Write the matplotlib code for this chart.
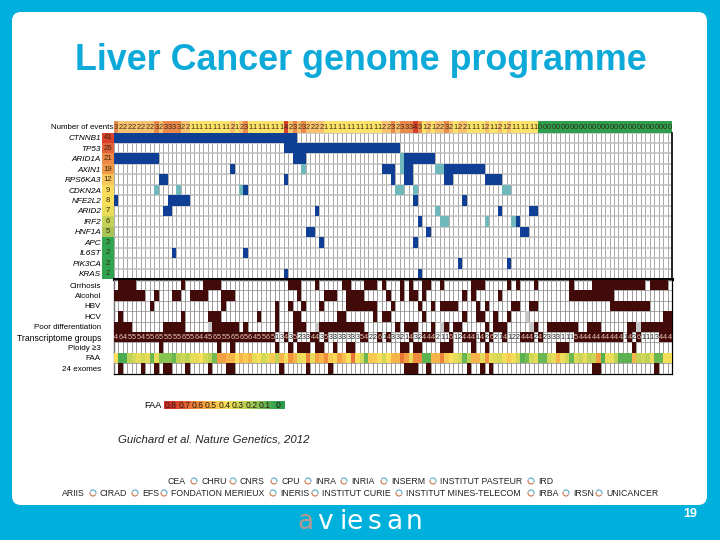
import numpy as np
import matplotlib
matplotlib.use('Agg')
import matplotlib.pyplot as plt
from matplotlib.colors import LinearSegmentedColormap, ListedColormap
from matplotlib.patches import Arc, FancyBboxPatch

plt.rcParams['font.family'] = ['Liberation Sans', 'DejaVu Sans']

title = 'Liver Cancer genome programme'
citation = 'Guichard et al. Nature Genetics, 2012'

### Mutation panel, runs of columns per gene (first, last)
genes = ['CTNNB1', 'TP53', 'ARID1A', 'AXIN1', 'RPS6KA3', 'CDKN2A', 'NFE2L2', 'ARID2',
         'IRF2', 'HNF1A', 'APC', 'IL6ST', 'PIK3CA', 'KRAS']
gene_counts = [41, 26, 21, 19, 12, 9, 8, 7, 6, 5, 2, 2, 2, 2]
count_colors = ['#D8402C', '#E2603A', '#EE8A45', '#F09A4A', '#F8C75C', '#FBDD5E', '#FBE05E', '#E8DC58',
                '#C4D257', '#A8C455', '#2FA550', '#2FA550', '#2FA550', '#2FA550']
blue_runs = [
    [(0, 40)],
    [(38, 63)],
    [(0, 9), (40, 42), (65, 71)],
    [(26, 26), (60, 62), (65, 66), (74, 82)],
    [(10, 11), (38, 38), (62, 62), (65, 66), (74, 75), (83, 86)],
    [(29, 29)],
    [(0, 0), (12, 16), (67, 67), (78, 78)],
    [(11, 12), (45, 45), (86, 86), (93, 94)],
    [(68, 68), (90, 90)],
    [(43, 44), (70, 70), (91, 92)],
    [(46, 46), (67, 67)],
    [(13, 13), (29, 29)],
    [(77, 77), (88, 88)],
    [(38, 38), (68, 68)],
]
teal_runs = [
    [], [],
    [(64, 64)],
    [(42, 42), (64, 64), (72, 73)],
    [],
    [(9, 9), (14, 14), (28, 28), (63, 64), (67, 67), (87, 88)],
    [],
    [(72, 72)],
    [(73, 74), (83, 83), (89, 89)],
    [], [], [], [], [],
]
events = ('3222222223' '2333322111' '1111112123' '1111111142' '3232222111'
          '1111111111' '2232333431' '2122321221' '1112112121' '11111'
          '000000000000000000000000000000')
event_colors = ['#2E9E4F', '#FCE46A', '#F8C271', '#E98A4C', '#D5402C']

### Clinical panel
clinical = ['Cirrhosis', 'Alcohol', 'HBV', 'HCV', 'Poor differentiation', 'Transcriptome groups',
            'Ploidy ≥3', 'FAA', '24 exomes']
cirrhosis = [(1, 4), (15, 15), (20, 23), (39, 41), (45, 45), (51, 52), (56, 58), (60, 60), (64, 64), (66, 66),
             (69, 70), (73, 73), (80, 82), (88, 88), (90, 90), (94, 94), (102, 102), (107, 118), (120, 123)]
alcohol = [(0, 6), (9, 9), (13, 14), (17, 20), (24, 26), (41, 41), (47, 49), (52, 55), (61, 61), (64, 64),
           (66, 67), (69, 69), (78, 78), (80, 80), (86, 86), (102, 111)]
hbv = [(8, 8), (24, 24), (36, 36), (39, 39), (42, 42), (46, 46), (52, 58), (62, 62), (68, 68), (71, 71),
       (73, 76), (81, 81), (83, 83), (89, 90), (93, 94), (111, 119)]
hcv = [(1, 1), (15, 15), (21, 23), (32, 32), (36, 36), (40, 41), (50, 51), (58, 58), (60, 61), (69, 69),
       (78, 78), (81, 82), (85, 85), (88, 88), (123, 124)]
poor_diff = [(0, 3), (11, 15), (22, 27), (29, 29), (36, 36), (40, 42), (46, 55), (63, 63), (65, 67), (71, 71),
             (74, 74), (76, 77), (83, 83), (85, 87), (94, 94), (97, 103), (106, 108), (115, 116), (118, 124)]
poor_diff_na = [21, 45, 73, 93, 117]
hcv_na = [92]
ploidy = [(10, 10), (23, 23), (26, 26), (36, 36), (39, 39), (41, 43), (45, 46), (49, 49), (52, 53), (64, 65),
          (67, 68), (73, 75), (80, 80), (83, 83), (99, 101), (116, 116)]
exomes = [(1, 1), (6, 6), (9, 9), (11, 12), (16, 16), (21, 21), (25, 26), (37, 37), (43, 43), (48, 48),
          (65, 67), (70, 70), (79, 79), (82, 82), (84, 84), (107, 108), (121, 121)]
groups = ('464555455655555655644565556565645565'
          '1343523344353333333'
          '5422614332' '1432444211' '6124441426' '2141224442'
          '4233311154' '4444444441' '4261113444')
faa = [.40, .05, .05, .25, .30, .35, .30, .35, .10, .35, .15, .15, .15, .10, .25, .30, .25, .35, .35, .40,
       .30, .25, .12, .55, .55, .50, .50, .40, .50, .45, .50, .35, .40, .30, .35, .45, .25, .50, .38, .58,
       .50, .35, .38, .62, .35, .55, .50, .60, .45, .42, .55, .48, .40, .65, .40,
       .30, .10, .45, .45, .40, .30, .40, .50, .50, .65, .55, .35, .60, .60, .08, .08, .50, .50, .62, .45,
       .40, .35, .30, .10, .25, .50, .50, .35, .58, .35, .33, .30, .38, .45, .38, .30, .08, .12, .30, .35,
       .10, .10, .30, .35, .50, .37, .30, .10, .33, .28, .35, .25, .28, .55, .07, .36, .36, .25, .08, .08,
       .08, .50, .25, .30, .25, .36, .10, .10, .38, .38]
faa_legend = [0.8, 0.7, 0.6, 0.5, 0.4, 0.3, 0.2, 0.1, 0]

### Footer
partners_top = ['CEA', 'CHRU', 'CNRS', 'CPU', 'INRA', 'INRIA', 'INSERM', 'INSTITUT PASTEUR', 'IRD']
partners_top_x = [167, 201, 240, 281, 315, 351, 391, 440, 538]
partners_bottom = ['ARIIS', 'CIRAD', 'EFS', 'FONDATION MERIEUX', 'INERIS', 'INSTITUT CURIE',
                   'INSTITUT MINES-TELECOM', 'IRBA', 'IRSN', 'UNICANCER']
partners_bottom_x = [62, 100, 142, 171, 280, 322, 406, 538, 573, 606]
logo_letters = ['a', 'v', 'i', 'e', 's', 'a', 'n']
logo_x = [297, 317, 339, 346, 368, 386, 406]
logo_colors = ['#B39A8E', 'white', 'white', 'white', 'white', 'white', 'white']

n_cols = len(events)
BLUE = '#0F3F94'
TEAL = '#6FB8BC'
DARK = '#420A08'
faa_cmap = LinearSegmentedColormap.from_list('faa', ['#2A9E4E', '#A9CF55', '#FBE05A', '#F08C3C', '#D7302A'])


def panel(fig, x0, y0, x1, y1):
    # axes from pixel box, y counted from the top of the picture
    ax = fig.add_axes([x0 / 720, 1 - y1 / 540, (x1 - x0) / 720, (y1 - y0) / 540])
    return ax


def fill_runs(row, runs, value):
    for first, last in runs:
        row[first:last + 1] = value


fig = plt.figure(figsize=(7.2, 5.4), dpi=100, facecolor='#00B0DC')

### Slide background
bg = fig.add_axes([0, 0, 1, 1])
bg.set_xlim(0, 720)
bg.set_ylim(540, 0)
bg.axis('off')
bg.add_patch(FancyBboxPatch((12, 12), 695, 493, boxstyle='round,pad=0,rounding_size=9', fc='white', ec='none'))
bg.text(361, 60, title, color='#0DA9D8', fontsize=25.8, fontweight='bold', ha='center', va='center')
bg.text(118, 439, citation, fontsize=8.2, style='italic', color='#222222', va='center')
for names, xs, y in [(partners_top, partners_top_x, 481), (partners_bottom, partners_bottom_x, 493)]:
    for i, (name, x) in enumerate(zip(names, xs)):
        bg.text(x, y, name, fontsize=6.3, color='#222222', va='center')
        if i > 0:
            bg.add_patch(Arc((x - 7, y), 6, 6, theta1=30, theta2=200, color='#C9764A', lw=0.8))
            bg.add_patch(Arc((x - 7, y), 6, 6, theta1=210, theta2=380, color='#55A9C8', lw=0.8))
for letter, x, col in zip(logo_letters, logo_x, logo_colors):
    bg.text(x, 529, letter, color=col, fontsize=19, va='baseline', family='DejaVu Sans')
bg.text(690, 514, '19', color='white', fontsize=9, fontweight='bold', ha='center', va='center')

### Number of events row
ax_ev = panel(fig, 114, 121, 672, 132.5)
ev_vals = np.array([[int(d) for d in events]])
ax_ev.pcolormesh(ev_vals, cmap=ListedColormap(event_colors), vmin=-0.5, vmax=4.5)
for c, d in enumerate(events):
    ax_ev.text(c + 0.5, 0.45, d, fontsize=5.4, ha='center', va='center', color='#3A2A10')
ax_ev.set_xlim(0, n_cols)
ax_ev.set_ylim(0, 1)
ax_ev.set_xticks([])
ax_ev.set_yticks([0.5], ['Number of events'], fontsize=5.7)
ax_ev.tick_params(length=0, pad=0.5)
for s in ax_ev.spines.values():
    s.set_visible(False)

### Mutation panel
mut = np.zeros((len(genes), n_cols))
for i in range(len(genes)):
    fill_runs(mut[i], teal_runs[i], 1)
    fill_runs(mut[i], blue_runs[i], 2)
ax_mut = panel(fig, 114, 132.5, 672, 279)
ax_mut.pcolormesh(mut, cmap=ListedColormap(['white', TEAL, BLUE]), vmin=0, vmax=2, zorder=2)
ax_mut.set_xlim(-2.6, n_cols)
ax_mut.set_ylim(len(genes), 0)
ax_mut.set_position([(114 - 2.6 * 558 / n_cols) / 720, 1 - 279 / 540, (558 + 2.6 * 558 / n_cols) / 720, 146.5 / 540])
for c in range(n_cols + 1):
    ax_mut.plot([c, c], [0, len(genes)], color='#9A9A9A', lw=0.6, zorder=3)
for r in range(len(genes) + 1):
    ax_mut.plot([0, n_cols], [r, r], color='#BDBDBD', lw=1.1, zorder=3)
# blue cells sit over the grid
ax_mut.pcolormesh(np.ma.masked_equal(mut, 0), cmap=ListedColormap([TEAL, BLUE]), vmin=1, vmax=2, zorder=4)
for r, (cnt, col) in enumerate(zip(gene_counts, count_colors)):
    ax_mut.barh(r + 0.5, 2.6, left=-2.6, height=1, color=col, zorder=5)
    ax_mut.text(-1.3, r + 0.5, str(cnt), fontsize=5.6, ha='center', va='center', color='#3A2A10', zorder=6)
ax_mut.set_xticks([])
ax_mut.set_yticks(np.arange(len(genes)) + 0.5, genes, fontsize=5.9, style='italic')
ax_mut.tick_params(length=0, pad=1)
for name, s in ax_mut.spines.items():
    s.set_visible(False)
ax_mut.plot([n_cols, n_cols], [0, len(genes)], color='black', lw=1.2, zorder=6, clip_on=False)
ax_mut.plot([0, n_cols], [len(genes), len(genes)], color='black', lw=2.2, zorder=6, clip_on=False)

### Clinical panel
clin = np.zeros((len(clinical), n_cols))
for i, runs in zip([0, 1, 2, 3, 4, 6, 8], [cirrhosis, alcohol, hbv, hcv, poor_diff, ploidy, exomes]):
    fill_runs(clin[i], runs, 2)
clin[3, hcv_na] = 1
clin[4, poor_diff_na] = 1
group_vals = np.array([int(d) for d in groups])
clin[5, group_vals >= 4] = 2
ax_cl = panel(fig, 114, 280, 672, 373.5)
ax_cl.pcolormesh(clin, cmap=ListedColormap(['white', '#C8C8C8', DARK]), vmin=0, vmax=2)
for c in range(n_cols + 1):
    ax_cl.plot([c, c], [0, len(clinical)], color='#8A8A8A', lw=0.6, zorder=3)
for r in range(len(clinical) + 1):
    ax_cl.plot([0, n_cols], [r, r], color='#8A8A8A', lw=0.5, zorder=3)
ax_cl.pcolormesh(np.ma.masked_equal(clin, 0), cmap=ListedColormap(['#C8C8C8', DARK]), vmin=1, vmax=2, zorder=4)
ax_cl.pcolormesh(np.arange(n_cols + 1), [7, 8], np.array([faa]), cmap=faa_cmap, vmin=0, vmax=0.8, zorder=5)
for c, d in enumerate(groups):
    dark = int(d) >= 4
    ax_cl.text(c + 0.5, 5.5, d, fontsize=5.2, ha='center', va='center',
               color='#E8C8B8' if dark else '#222222', zorder=6)
ax_cl.set_xlim(0, n_cols)
ax_cl.set_ylim(len(clinical), 0)
ax_cl.set_xticks([])
ax_cl.set_yticks(np.arange(len(clinical)) + 0.5, clinical, fontsize=5.8)
ax_cl.get_yticklabels()[5].set_fontsize(6.2)
ax_cl.tick_params(length=0, pad=9.4)
for s in ax_cl.spines.values():
    s.set_linewidth(0.9)

### FAA legend
ax_leg = panel(fig, 164, 401, 285, 409)
ax_leg.imshow(np.array([faa_legend]), cmap=faa_cmap, vmin=0, vmax=0.8, aspect='auto', interpolation='bilinear')
for i, v in enumerate(faa_legend):
    ax_leg.text(i, 0, str(v), fontsize=6.2, ha='center', va='center', color='#2A1A10')
ax_leg.axis('off')
bg.text(162, 405, 'FAA', fontsize=6.6, ha='right', va='center')

fig.savefig('out.png', dpi=100, facecolor=fig.get_facecolor())
